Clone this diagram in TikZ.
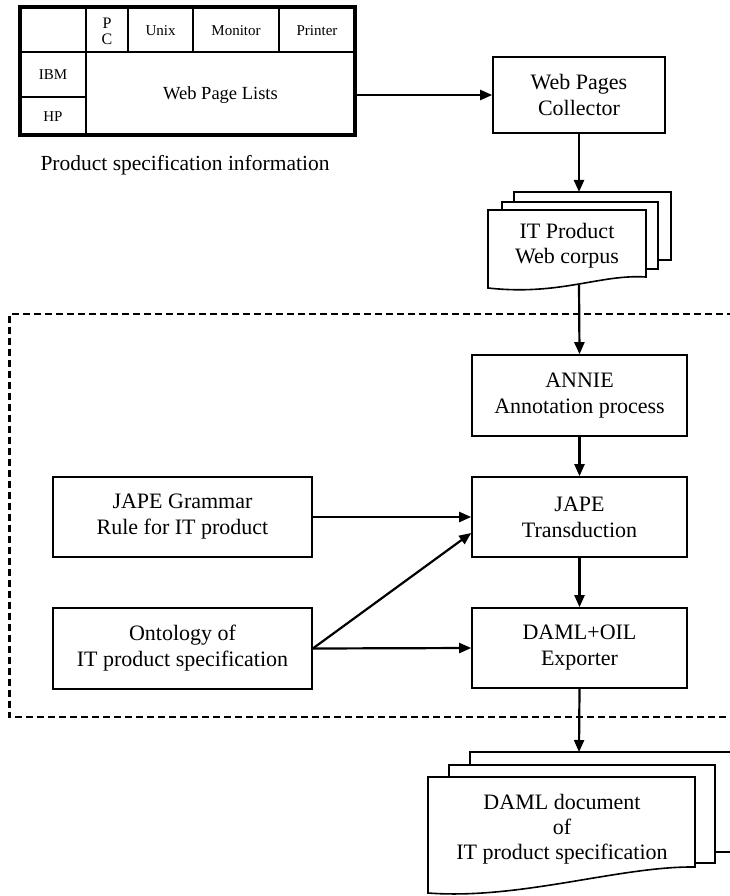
\documentclass[tikz,border=0pt]{standalone}
\usepackage{fontspec}
\setmainfont{Liberation Serif}
\usetikzlibrary{arrows.meta}
\begin{document}
\begin{tikzpicture}[x=1pt,y=-1pt,
  box/.style={draw, line width=1.6pt, align=center, font=\fontsize{22}{26}\selectfont, inner sep=0pt},
  arr/.style={line width=2.2pt, -{Triangle[length=12pt,width=10pt]}},
  doc/.style={draw, line width=1.6pt, fill=white},
  cell/.style={font=\fontsize{15}{15}\selectfont, inner sep=0pt, align=center},
  thin/.style={line width=1.4pt},
  dashbox/.style={line width=2.2pt, dash pattern=on 7pt off 4pt}]
\useasboundingbox (0,0) rectangle (730,896);
\clip (0,0) rectangle (730,896);
\fill[white] (0,0) rectangle (730,896);

% ---- table of product specification information
\node[draw, line width=3.8pt, minimum width=335pt, minimum height=128pt, inner sep=0pt] (tbl) at (187.5,71) {};
\draw[thin] (86,7) -- (86,135);
\draw[thin] (20,52) -- (355,52);
\draw[thin] (128,7) -- (128,52);
\draw[thin] (193,7) -- (193,52);
\draw[thin] (279,7) -- (279,52);
\draw[thin] (20,97) -- (86,97);
\node[cell, font=\fontsize{16}{16}\selectfont] (pc) at (107,31) {P\\C};
\node[cell] (unix) at (160.5,31) {Unix};
\node[cell] (mon) at (236,31) {Monitor};
\node[cell] (prn) at (317,31) {Printer};
\node[cell] (ibm) at (53,75) {IBM};
\node[cell] (hp) at (53,117) {HP};
\node[cell, font=\fontsize{18.5}{20}\selectfont] (wpl) at (220.5,95) {Web Page Lists};
\node[font=\fontsize{21.5}{26}\selectfont, inner sep=0pt] (cap) at (185,165) {Product specification information};

% ---- collector
\node[box, minimum width=172pt, minimum height=76pt] (col) at (579,95) {Web Pages\\Collector};
\draw[arr] (tbl.east |- col.west) -- (col.west);

% ---- corpus documents
\draw[doc] (514,192) rectangle (671,260);
\draw[doc] (502,202) rectangle (658,269);
\draw[doc] (488,210) -- (646,210) -- (646,277) .. controls (600,274) and (560,296) .. (488,288) -- cycle;
\node[align=center, font=\fontsize{22}{25}\selectfont, inner sep=0pt] (corpus) at (567,246) {IT Product\\Web corpus};
\coordinate (corpusTop) at (579,192);
\coordinate (corpusBot) at (579,285);
\draw[arr] (col.south) -- (corpusTop);

% ---- dashed frame
\draw[dashbox] (745,314) -- (9.5,314) -- (9.5,717) -- (745,717);

% ---- process boxes
\node[box, minimum width=215pt, minimum height=81pt] (annie) at (579.5,395.5) {ANNIE\\Annotation process};
\node[box, minimum width=215pt, minimum height=80pt] (jape) at (579.5,517) {JAPE\\Transduction};
\node[box, minimum width=215pt, minimum height=80pt] (daml) at (579.5,648) {DAML+OIL\\Exporter};
\node[box, minimum width=259pt, minimum height=80pt] (gram) at (182.5,517) {JAPE Grammar\\Rule for IT product};
\node[box, minimum width=259pt, minimum height=81pt] (onto) at (182.5,648.5) {Ontology of\\IT product specification};
\coordinate (japeIn) at ([yshift=-16pt]jape.west);

\draw[arr] (corpusBot) -- (annie.north);
\draw[arr] (annie.south) -- (jape.north);
\draw[arr] (jape.south) -- (daml.north);
\draw[arr] (gram.east) -- (jape.west);
\draw[arr] (onto.east) -- (daml.west);
\draw[arr] (onto.east) -- (japeIn);

% ---- DAML documents
\draw[doc] (470,752) rectangle (760,852);
\draw[doc] (449,765) rectangle (715,863);
\draw[doc] (428,777) -- (695,777) -- (695,867) .. controls (620,866) and (520,900) .. (428,893) -- cycle;
\node[align=center, font=\fontsize{22}{25}\selectfont, inner sep=0pt] (dtext) at (562,829) {DAML document\\of\\IT product specification};
\coordinate (damlTop) at (579,752);
\draw[arr] (daml.south) -- (damlTop);
\end{tikzpicture}
\end{document}
